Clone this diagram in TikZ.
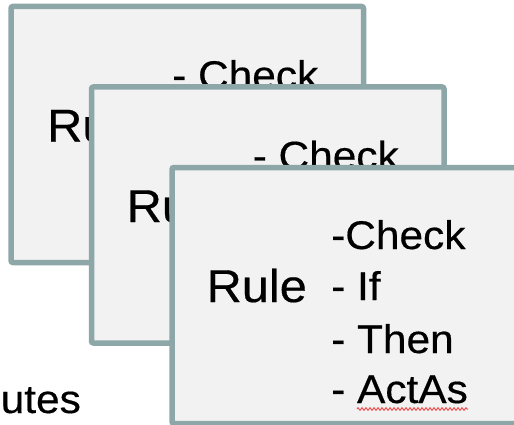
\documentclass[tikz,border=0pt]{standalone}
\usepackage{fontspec}
\setmainfont[FakeStretch=1.06,FakeBold=0.4]{Liberation Sans}
\usetikzlibrary{decorations.pathmorphing}
\definecolor{boxline}{HTML}{8DA7A9}
\definecolor{boxfill}{HTML}{F2F2F2}
\definecolor{squig}{HTML}{F05050}
\begin{document}
\begin{tikzpicture}[x=1pt,y=1pt,
  card/.style={draw=boxline,fill=boxfill,line width=5.5pt,rounded corners=2pt,
    minimum width=352.5pt,minimum height=256pt,anchor=north west,inner sep=0pt,outer sep=0pt},
  rulelbl/.style={anchor=base west,inner sep=0pt,font=\fontsize{46}{50}\selectfont},
  item/.style={anchor=base west,inner sep=0pt,font=\fontsize{40}{46}\selectfont},
  plain/.style={anchor=base west,inner sep=0pt,font=\fontsize{40}{46}\selectfont}]
\useasboundingbox (0,0) rectangle (514,424);
\node[plain] (utes) at (0.5,11) {utes};
% card 1
\node[card] (c1) at (11,417.5) {};
\begin{scope}[shift={(11,417.5)}]
  \node[rulelbl] (r1) at (36,-135) {Rule};
  \node[item] (k1) at (161,-82.5) {- Check};
\end{scope}
% card 2
\node[card] (c2) at (91.5,337) {};
\begin{scope}[shift={(91.5,337)}]
  \node[rulelbl] (r2) at (35,-135) {Rule};
  \node[item] (k2) at (161,-82.5) {- Check};
\end{scope}
% card 3
\node[card] (c3) at (172,256.5) {};
\begin{scope}[shift={(172,256.5)}]
  \node[rulelbl] (r3) at (34.4,-134.5) {Rule};
  \node[item] (i1) at (159,-81.5) {-Check};
  \node[item] (i2) at (159,-132.5) {- If};
  \node[item] (i3) at (159,-185.5) {- Then};
  \node[item] (i4) at (159,-235.5) {- ActAs};
\end{scope}
\coordinate (sqa) at (357,15);
\coordinate (sqb) at (468,15);
\draw[squig,line width=1pt,decorate,decoration={zigzag,segment length=4pt,amplitude=1.3pt}] (sqa) -- (sqb);
\end{tikzpicture}
\end{document}
